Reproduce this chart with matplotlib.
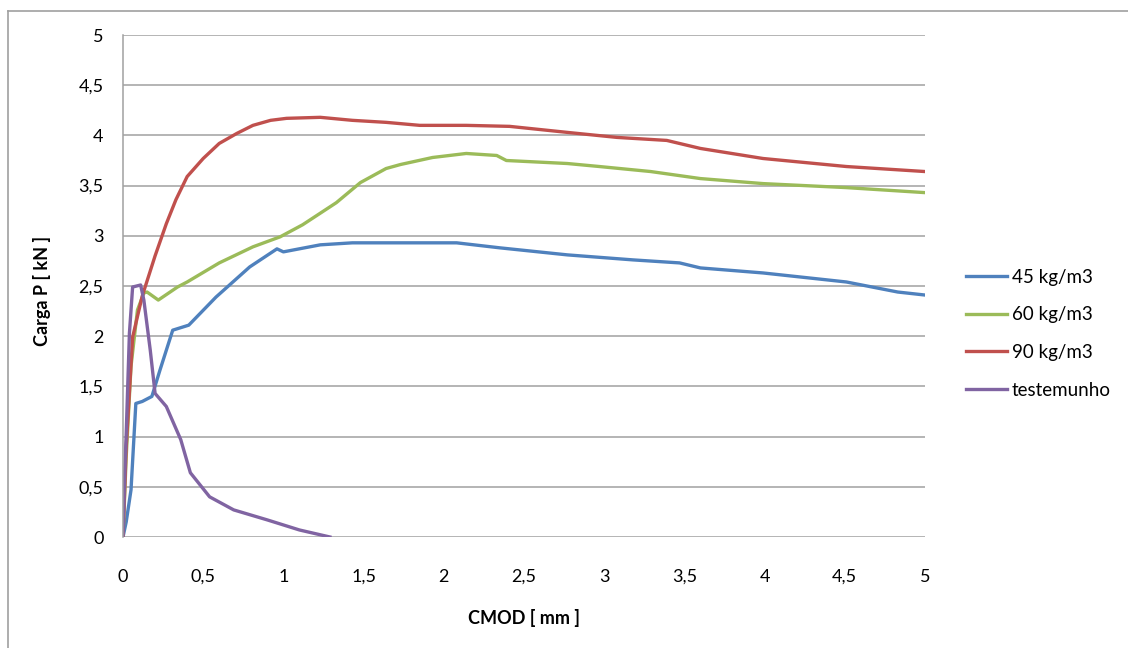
import matplotlib
matplotlib.use("Agg")
import numpy as np
from matplotlib import pyplot as plt
from matplotlib.lines import Line2D

plt.rcParams['font.family'] = ['Lato', 'DejaVu Sans']

# CMOD [mm] and load P [kN]
x_45 = [0.0, 0.02, 0.05, 0.08, 0.12, 0.18, 0.23, 0.31, 0.41, 0.58, 0.79, 0.96, 1.0, 1.23, 1.43,
        1.73, 1.85, 2.08, 2.35, 2.77, 3.18, 3.47, 3.60, 3.99, 4.51, 4.83, 5.0]
y_45 = [0.0, 0.15, 0.47, 1.33, 1.35, 1.40, 1.66, 2.06, 2.11, 2.39, 2.69, 2.87, 2.84, 2.91, 2.93,
        2.93, 2.93, 2.93, 2.88, 2.81, 2.76, 2.73, 2.68, 2.63, 2.54, 2.44, 2.41]

x_60 = [0.0, 0.02, 0.05, 0.09, 0.13, 0.15, 0.22, 0.34, 0.40, 0.60, 0.81, 0.98, 1.12, 1.33, 1.48,
        1.64, 1.73, 1.93, 2.14, 2.33, 2.39, 2.77, 2.97, 3.29, 3.60, 3.99, 4.51, 5.0]
y_60 = [0.0, 0.8, 1.7, 2.26, 2.43, 2.44, 2.36, 2.49, 2.54, 2.73, 2.89, 2.99, 3.11, 3.33, 3.53,
        3.67, 3.71, 3.78, 3.82, 3.80, 3.75, 3.72, 3.69, 3.64, 3.57, 3.52, 3.48, 3.43]

x_90 = [0.0, 0.02, 0.06, 0.12, 0.20, 0.27, 0.33, 0.40, 0.50, 0.60, 0.71, 0.81, 0.92, 1.02, 1.23,
        1.43, 1.64, 1.85, 2.14, 2.41, 2.77, 3.08, 3.39, 3.60, 3.99, 4.51, 5.0]
y_90 = [0.0, 0.9, 1.99, 2.40, 2.80, 3.12, 3.36, 3.59, 3.77, 3.92, 4.02, 4.10, 4.15, 4.17, 4.18,
        4.15, 4.13, 4.10, 4.10, 4.09, 4.03, 3.98, 3.95, 3.87, 3.77, 3.69, 3.64]

x_test = [0.0, 0.01, 0.02, 0.04, 0.06, 0.11, 0.13, 0.17, 0.20, 0.27, 0.36, 0.42, 0.54, 0.69,
          0.90, 1.10, 1.29]
y_test = [0.0, 0.6, 1.03, 2.03, 2.49, 2.51, 2.36, 1.86, 1.43, 1.30, 0.97, 0.64, 0.40, 0.27,
          0.17, 0.07, 0.0]

series = [("45 kg/m3", x_45, y_45, "#4F81BD"),
          ("60 kg/m3", x_60, y_60, "#9BBB59"),
          ("90 kg/m3", x_90, y_90, "#C0504D"),
          ("testemunho", x_test, y_test, "#8064A2")]

x_ticks = [0, 0.5, 1, 1.5, 2, 2.5, 3, 3.5, 4, 4.5, 5]
y_ticks = [0, 0.5, 1, 1.5, 2, 2.5, 3, 3.5, 4, 4.5, 5]

def comma(v):
    return ("%g" % v).replace(".", ",")

fig = plt.figure(figsize=(11.28, 6.48), dpi=100)
ax = fig.add_axes([123/1128, 111/648, 802/1128, 502/648])

for label, xs, ys, col in series:
    ax.plot(xs, ys, color=col, linewidth=2.4, label=label, solid_joinstyle="round")

ax.set_xlim(0, 5)
ax.set_ylim(0, 5)
ax.set_xticks(x_ticks)
ax.set_yticks(y_ticks)
ax.set_xticklabels([comma(v) for v in x_ticks], fontsize=13)
ax.set_yticklabels([comma(v) for v in y_ticks], fontsize=13)
ax.tick_params(axis="x", length=0, pad=23)
ax.tick_params(axis="y", length=0, pad=14)
ax.grid(axis="y", color="#a0a0a0", linewidth=1.1)
ax.set_axisbelow(True)
for s in ["top", "right", "bottom"]:
    ax.spines[s].set_visible(False)
ax.spines["left"].set_color("#a0a0a0")
ax.spines["left"].set_linewidth(1.1)

ax.set_xlabel("CMOD [ mm ]", fontsize=13, fontweight="bold", labelpad=17)
ax.set_ylabel("Carga P [ kN ]", fontsize=13, fontweight="bold")
ax.yaxis.set_label_coords(-0.09, 0.49)

ax.legend(loc="center left", bbox_to_anchor=(1.03, 0.405), frameon=False, fontsize=13.5,
          handlelength=2.2, handletextpad=0.25, labelspacing=1.1)

# outer chart frame (left and top edges visible)
fig.add_artist(Line2D([8/1128, 8/1128], [0, 1 - 11/648], transform=fig.transFigure,
                      color="#a0a0a0", linewidth=1.2))
fig.add_artist(Line2D([8/1128, 1], [1 - 11/648, 1 - 11/648], transform=fig.transFigure,
                      color="#a0a0a0", linewidth=1.2))

fig.savefig("out.png", dpi=100)
